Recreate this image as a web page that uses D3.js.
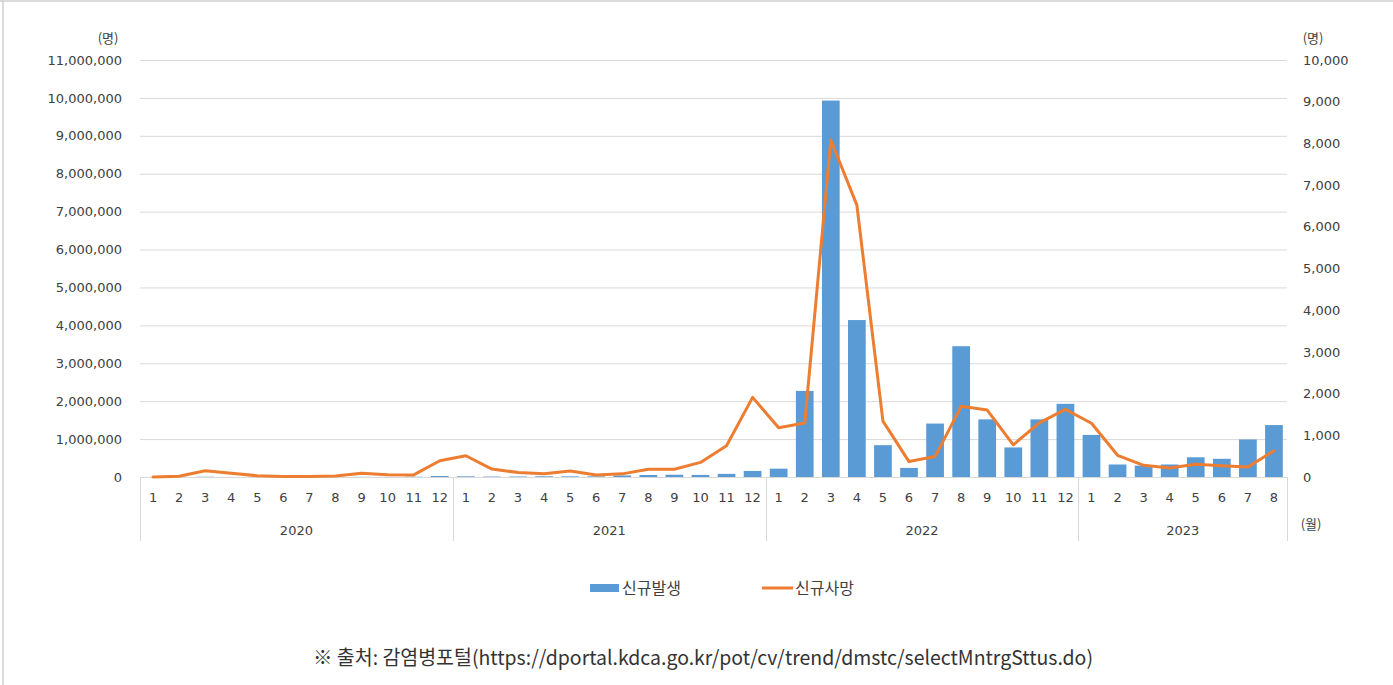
<!DOCTYPE html>
<html><head><meta charset="utf-8">
<script src="https://cdn.jsdelivr.net/npm/d3@7"></script>
<style>
html,body{margin:0;padding:0;background:#fff;}
svg{display:block;}
text{font-family:"DejaVu Sans","Noto Sans CJK KR",sans-serif;}
.kr{font-family:"Noto Sans CJK KR","Noto Sans",sans-serif;}
</style></head>
<body>
<svg id="chart" width="1393" height="685"></svg>
<script>
const years = ["2020","2021","2022","2023"];
const monthsPerYear = [12,12,12,8];
const cases = [
  11, 3150, 6640, 990, 730, 1330, 1510, 2420, 3860, 2700, 7690, 26520,
  17500, 11500, 13400, 18900, 16700, 17000, 41000, 53000, 60000, 55000, 82000, 160000,
  220000, 2270000, 9930000, 4140000, 840000, 240000, 1410000, 3450000, 1520000, 780000, 1520000, 1930000,
  1110000, 330000, 300000, 330000, 520000, 480000, 990000, 1370000
];
const deaths = [
  0, 16, 150, 90, 30, 10, 10, 25, 90, 55, 50, 390,
  510, 190, 110, 80, 145, 50, 75, 185, 185, 350, 750, 1910,
  1180, 1295, 8080, 6520, 1340, 370, 490, 1695, 1605, 770, 1300, 1620,
  1290, 520, 280, 215, 305, 270, 240, 630
];
const leftTicks = d3.range(0, 11000001, 1000000);
const rightTicks = d3.range(0, 10001, 1000);
const seriesNames = ["신규발생","신규사망"];
const sourceText = "※ 출처: 감염병포털(https://dportal.kdca.go.kr/pot/cv/trend/dmstc/selectMntrgSttus.do)";

// build categories
const cats = [];
years.forEach((y,i)=>{ for(let m=1;m<=monthsPerYear[i];m++) cats.push({year:y, month:m, key:y+"-"+m}); });
cats.forEach((c,i)=>{ c.cases = cases[i]; c.deaths = deaths[i]; });

const svg = d3.select("#chart");
const L = 140, R = 1287, T = 60, B = 477;
const textColor = "#404040";

// frame
svg.append("line").attr("x1",0).attr("x2",1393).attr("y1",1).attr("y2",1).attr("stroke","#d0d0d0").attr("stroke-width",1.5);
svg.append("line").attr("x1",3).attr("x2",3).attr("y1",0).attr("y2",685).attr("stroke","#d0d0d0").attr("stroke-width",1.5);

const x = d3.scaleBand().domain(cats.map(c=>c.key)).range([L,R]).paddingInner(0.32).paddingOuter(0.16);
const xOuter = d3.scaleBand().domain(cats.map(c=>c.key)).range([L,R]).padding(0);
const yL = d3.scaleLinear().domain([0,11000000]).range([B,T]);
const yR = d3.scaleLinear().domain([0,10000]).range([B,T]);

// gridlines
svg.append("g").selectAll("line").data(leftTicks.slice(1)).join("line")
  .attr("x1",L).attr("x2",R).attr("y1",d=>yL(d)+0.5).attr("y2",d=>yL(d)+0.5)
  .attr("stroke","#d9d9d9").attr("stroke-width",1);

// left axis
const gL = svg.append("g").attr("transform",`translate(${L},0)`)
  .call(d3.axisLeft(yL).tickValues(leftTicks).tickFormat(d3.format(",")).tickSize(0).tickPadding(18));
gL.select(".domain").remove();
gL.selectAll("text").attr("fill",textColor).style("font-size","13px").style("font-family","DejaVu Sans");

// right axis
const gR = svg.append("g").attr("transform",`translate(${R},0)`)
  .call(d3.axisRight(yR).tickValues(rightTicks).tickFormat(d3.format(",")).tickSize(0).tickPadding(16));
gR.select(".domain").remove();
gR.selectAll("text").attr("fill",textColor).style("font-size","13px").style("font-family","DejaVu Sans");

// bars
svg.append("g").selectAll("rect").data(cats).join("rect")
  .attr("x",d=>x(d.key)).attr("width",x.bandwidth())
  .attr("y",d=>yL(d.cases)).attr("height",d=>B-yL(d.cases))
  .attr("fill","#5B9BD5");

// x axis baseline and category table
svg.append("line").attr("x1",L).attr("x2",R).attr("y1",B+0.5).attr("y2",B+0.5).attr("stroke","#d9d9d9");
let idx = 0;
const bounds = [L];
monthsPerYear.forEach(n=>{ idx += n; bounds.push(xOuter(cats[idx-1].key)+xOuter.bandwidth()); });
svg.append("g").selectAll("line").data(bounds).join("line")
  .attr("x1",d=>Math.round(d)+0.5).attr("x2",d=>Math.round(d)+0.5).attr("y1",B).attr("y2",541)
  .attr("stroke","#d9d9d9");

// month labels
svg.append("g").selectAll("text").data(cats).join("text")
  .attr("x",d=>xOuter(d.key)+xOuter.bandwidth()/2).attr("y",502)
  .attr("text-anchor","middle").attr("fill",textColor).style("font-size","13px")
  .text(d=>d.month);
// year labels
svg.append("g").selectAll("text").data(years).join("text")
  .attr("x",(d,i)=>(bounds[i]+bounds[i+1])/2).attr("y",535)
  .attr("text-anchor","middle").attr("fill",textColor).style("font-size","13px")
  .text(d=>d);

// line
const line = d3.line().x(d=>xOuter(d.key)+xOuter.bandwidth()/2).y(d=>yR(d.deaths));
svg.append("path").datum(cats).attr("d",line).attr("fill","none")
  .attr("stroke","#ED7D31").attr("stroke-width",3).attr("stroke-linejoin","round").attr("stroke-linecap","round");

// units
svg.append("text").attr("class","kr").attr("x",108).attr("y",43).attr("text-anchor","middle").attr("fill",textColor).style("font-size","13px").text("(명)");
svg.append("text").attr("class","kr").attr("x",1313).attr("y",43).attr("text-anchor","middle").attr("fill",textColor).style("font-size","13px").text("(명)");
svg.append("text").attr("class","kr").attr("x",1311).attr("y",529).attr("text-anchor","middle").attr("fill",textColor).style("font-size","13px").text("(월)");

// legend
svg.append("rect").attr("x",590).attr("y",584).attr("width",29).attr("height",8).attr("fill","#5B9BD5");
svg.append("text").attr("class","kr").attr("x",622).attr("y",594).attr("fill",textColor).style("font-size","16px").text(seriesNames[0]);
svg.append("line").attr("x1",762).attr("x2",793).attr("y1",588).attr("y2",588).attr("stroke","#ED7D31").attr("stroke-width",3);
svg.append("text").attr("class","kr").attr("x",795).attr("y",594).attr("fill",textColor).style("font-size","16px").text(seriesNames[1]);

// source
svg.append("text").attr("class","kr").attr("x",313).attr("y",665).attr("fill","#333").style("font-size","20px")
  .attr("textLength",780).attr("lengthAdjust","spacingAndGlyphs").text(sourceText);
</script>
</body></html>
